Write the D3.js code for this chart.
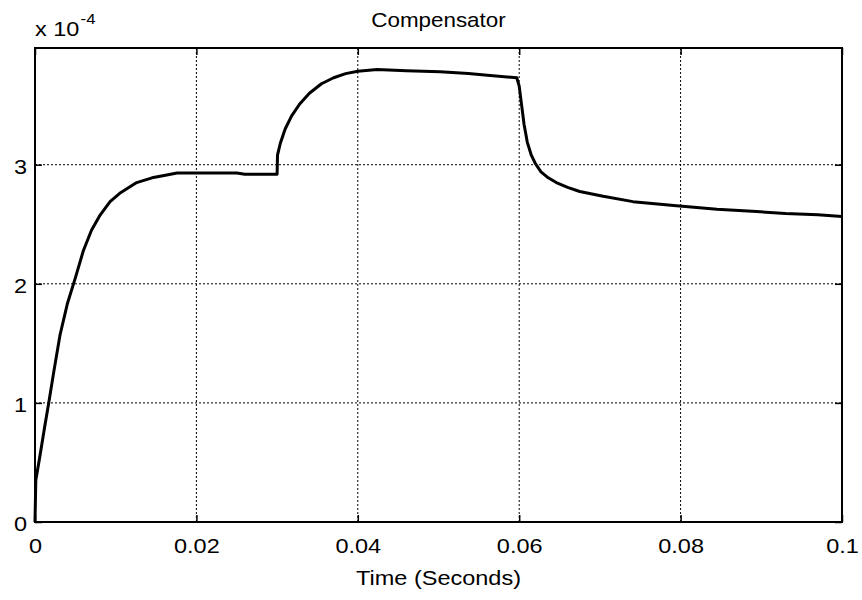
<!DOCTYPE html>
<html>
<head>
<meta charset="utf-8">
<script src="https://cdn.jsdelivr.net/npm/d3@7"></script>
<style>
body { margin:0; background:#fff; }
text { font-family: "Liberation Sans", Arial, sans-serif; fill:#000; }
</style>
</head>
<body>
<div id="scope"><svg></svg></div>
<script>
// simulation time (s) and compensator output (x 1e-4)
var timeValues = [0, 0.0001, 0.0006, 0.0012, 0.0017, 0.0023, 0.0031, 0.0040, 0.0050, 0.0060,
    0.0070, 0.0080, 0.0093, 0.0105, 0.0126, 0.0145, 0.0160, 0.0176, 0.025, 0.026,
    0.0300, 0.03005, 0.0304, 0.0310, 0.0318, 0.0328, 0.0340, 0.0355, 0.0370, 0.0385,
    0.0400, 0.0424, 0.046, 0.0502, 0.0537, 0.0564, 0.0597, 0.0600, 0.0603, 0.0606,
    0.0610, 0.0615, 0.0620, 0.0627, 0.0636, 0.0646, 0.0660, 0.0675, 0.0704, 0.0741,
    0.0795, 0.0845, 0.0894, 0.093, 0.097, 0.1]
var compValues = [0, 0.35, 0.55, 0.80, 1.0, 1.25, 1.57, 1.83, 2.05, 2.28,
    2.45, 2.57, 2.69, 2.76, 2.85, 2.89, 2.91, 2.93, 2.93, 2.92,
    2.92, 3.08, 3.18, 3.30, 3.41, 3.51, 3.60, 3.68, 3.73, 3.765,
    3.785, 3.80, 3.79, 3.78, 3.765, 3.75, 3.73, 3.66, 3.50, 3.34,
    3.19, 3.08, 3.01, 2.94, 2.89, 2.85, 2.81, 2.775, 2.735, 2.69,
    2.655, 2.627, 2.607, 2.59, 2.58, 2.565]

var xTicks = [0, 0.02, 0.04, 0.06, 0.08, 0.1]
var xTickLabels = ["0", "0.02", "0.04", "0.06", "0.08", "0.1"]
var yTicks = [0, 1, 2, 3]
var yTickLabels = ["0", "1", "2", "3"]

var titleText = "Compensator"
var xLabelText = "Time (Seconds)"

var screen = {width:862, height:600}
var margins = {left:35, right:20, top:48, bottom:78}
var graph = {
    width: screen.width - margins.left - margins.right,
    height: screen.height - margins.top - margins.bottom
}
var stretch = "scale(1.12,1)"

var makeTranslateString = function(x,y)
{
    return "translate("+x+","+y+")";
}

var svg = d3.select("#scope svg")
    .attr("width", screen.width)
    .attr("height", screen.height)

var xScale = d3.scaleLinear()
    .domain([0, 0.1])
    .range([0, graph.width])

var yScale = d3.scaleLinear()
    .domain([0, 3.98])
    .range([graph.height, 0])

var plot = svg.append("g")
    .attr("transform", makeTranslateString(margins.left, margins.top))

// dotted grid
plot.append("g")
    .selectAll("line")
    .data(xTicks.slice(1, -1))
    .enter()
    .append("line")
    .attr("x1", function(d){ return xScale(d) })
    .attr("x2", function(d){ return xScale(d) })
    .attr("y1", 0)
    .attr("y2", graph.height)
    .attr("stroke", "#000")
    .attr("stroke-width", 1)
    .attr("stroke-dasharray", "2,2")

plot.append("g")
    .selectAll("line")
    .data(yTicks.slice(1))
    .enter()
    .append("line")
    .attr("x1", 0)
    .attr("x2", graph.width)
    .attr("y1", function(d){ return yScale(d) })
    .attr("y2", function(d){ return yScale(d) })
    .attr("stroke", "#000")
    .attr("stroke-width", 1)
    .attr("stroke-dasharray", "2,2")

// axes with inward ticks
var xAxis = d3.axisBottom(xScale)
    .tickValues(xTicks)
    .tickFormat(function(d,i){ return xTickLabels[i] })
    .tickSize(-7)
    .tickPadding(16)

var yAxis = d3.axisLeft(yScale)
    .tickValues(yTicks)
    .tickFormat(function(d,i){ return yTickLabels[i] })
    .tickSize(-7)
    .tickPadding(7)

var gx = plot.append("g")
    .attr("transform", makeTranslateString(0, graph.height))
    .call(xAxis)
var gy = plot.append("g")
    .call(yAxis)
var gxTop = plot.append("g")
    .call(d3.axisTop(xScale).tickValues(xTicks).tickSize(-7).tickFormat(""))
var gyRight = plot.append("g")
    .attr("transform", makeTranslateString(graph.width, 0))
    .call(d3.axisRight(yScale).tickValues(yTicks).tickSize(-7).tickFormat(""))

;[gx, gy, gxTop, gyRight].forEach(function(g)
{
    g.select(".domain").remove()
    g.selectAll(".tick line").attr("stroke", "#000").attr("stroke-width", 1.5)
    g.selectAll(".tick text")
        .style("font-family", "'Liberation Sans', Arial, sans-serif")
        .style("font-size", "21px")
        .attr("fill", "#000")
        .attr("transform", stretch)
})
gy.selectAll(".tick text").attr("dy", "0.42em")

// frame
plot.append("rect")
    .attr("x", 0)
    .attr("y", 0)
    .attr("width", graph.width)
    .attr("height", graph.height)
    .attr("fill", "none")
    .attr("stroke", "#000")
    .attr("stroke-width", 2)

// signal trace
var points = timeValues.map(function(t,i){ return [t, compValues[i]] })
var line = d3.line()
    .x(function(d){ return xScale(d[0]) })
    .y(function(d){ return yScale(d[1]) })

plot.append("path")
    .datum(points)
    .attr("d", line)
    .attr("fill", "none")
    .attr("stroke", "#000")
    .attr("stroke-width", 3)
    .attr("stroke-linejoin", "round")

// labels
svg.append("g")
    .attr("transform", makeTranslateString(margins.left + graph.width/2, 27))
    .append("text")
    .text(titleText)
    .attr("text-anchor", "middle")
    .attr("transform", stretch)
    .style("font-size", "20px")

svg.append("g")
    .attr("transform", makeTranslateString(margins.left + graph.width/2, 585))
    .append("text")
    .text(xLabelText)
    .attr("text-anchor", "middle")
    .attr("transform", stretch)
    .style("font-size", "21px")

var expo = svg.append("g")
    .attr("transform", makeTranslateString(margins.left, 36))
    .append("text")
    .attr("transform", stretch)
    .style("font-size", "21px")
expo.append("tspan").text("x 10")
expo.append("tspan")
    .text("-4")
    .attr("dy", -12)
    .attr("dx", 1)
    .style("font-size", "15px")
</script>
</body>
</html>
